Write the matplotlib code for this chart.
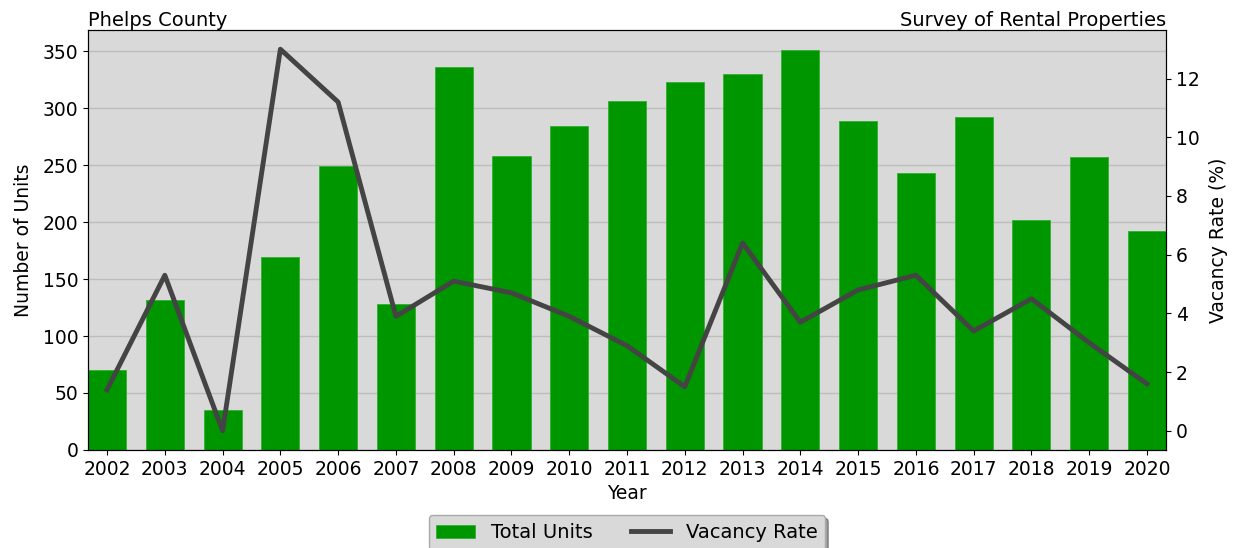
import matplotlib
matplotlib.use('Agg')
import matplotlib.pyplot as plt
import numpy as np

years = ['2002', '2003', '2004', '2005', '2006', '2007', '2008', '2009', '2010', '2011',
         '2012', '2013', '2014', '2015', '2016', '2017', '2018', '2019', '2020']
total_units = [70, 132, 35, 169, 249, 128, 336, 258, 284, 306,
               323, 330, 351, 289, 243, 292, 202, 257, 192]
vacancy_rate = [1.4, 5.3, 0.0, 13.0, 11.2, 3.9, 5.1, 4.7, 3.9, 2.9,
                1.5, 6.4, 3.7, 4.8, 5.3, 3.4, 4.5, 3.0, 1.6]

x = np.arange(len(years))
fs = 13.5

fig = plt.figure(figsize=(12.41, 5.48), dpi=100)
ax = fig.add_axes([0.0709, 0.179, 0.8687, 0.766])
ax.set_facecolor('#d9d9d9')
ax.set_axisbelow(True)
ax.yaxis.grid(True, color='#bdbdbd', lw=1.0)

bars = ax.bar(x, total_units, width=0.66, color='#009600', edgecolor='#30b030', lw=0.6,
              label='Total Units')
ax.set_xlim(-0.33, len(years) - 1 + 0.33)
ax.set_xticks(x)
ax.set_xticklabels(years)
ax.set_xlabel('Year', fontsize=fs, labelpad=4)
ax.set_ylabel('Number of Units', fontsize=fs, labelpad=7)
ax.tick_params(labelsize=fs)

ax2 = ax.twinx()
line, = ax2.plot(x, vacancy_rate, color='#444444', lw=3.5, label='Vacancy Rate')
ax2.set_ylabel('Vacancy Rate (%)', fontsize=fs, labelpad=7)
ax2.tick_params(labelsize=fs)
ax2.set_yticks([0, 2, 4, 6, 8, 10, 12])

ax.set_title('Phelps County', loc='left', fontsize=14, pad=3)
ax.set_title('Survey of Rental Properties', loc='right', fontsize=14, pad=3)

leg = ax.legend([bars, line], ['Total Units', 'Vacancy Rate'], loc='upper center',
                bbox_to_anchor=(0.5, -0.133), ncol=2, fontsize=14, shadow=True,
                facecolor='#d9d9d9', edgecolor='#aaaaaa', framealpha=1, fancybox=True,
                handlelength=2.0, columnspacing=2.0)

fig.savefig('out.png', dpi=100)
